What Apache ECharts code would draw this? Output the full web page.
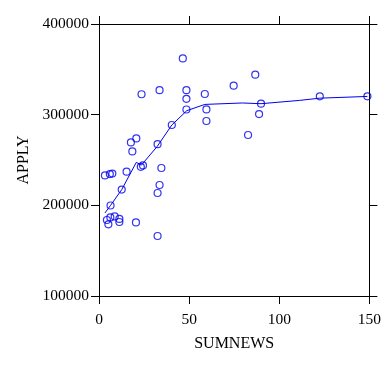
<!DOCTYPE html>
<html>
<head>
<meta charset="utf-8">
<script src="https://cdn.jsdelivr.net/npm/echarts@6/dist/echarts.min.js"></script>
<style>
  html, body { margin: 0; padding: 0; background: #fff; }
  #chart { width: 384px; height: 367px; }
</style>
</head>
<body>
<div id="chart"></div>
<script>
// scatter points: SUMNEWS vs APPLY
const sumnews = [46.5, 23.6, 33.6, 48.5, 48.5, 48.5, 40.4, 32.5, 17.7, 20.7,
  18.5, 24.4, 23.2, 34.6, 3.3, 6.0, 7.4, 15.3, 33.6, 32.5,
  12.6, 6.4, 4.4, 6.3, 8.7, 11.3, 11.3, 5.2, 20.5, 32.5,
  86.7, 74.7, 58.7, 59.6, 59.6, 89.9, 88.8, 82.7, 122.5, 148.9]
const apply = [362000, 322500, 327000, 327000, 317500, 305700, 288600, 267400, 269400, 273800,
  259500, 244000, 242500, 241200, 233000, 234500, 235000, 237100, 222400, 213600,
  217400, 199800, 183800, 186700, 187800, 185000, 181600, 179000, 181200, 166200,
  344100, 332000, 322800, 305800, 293000, 312100, 300700, 277600, 320200, 320200]

// fitted curve
const fitX = [3.3, 6.3, 12.6, 20.7, 23.5, 32.3, 40.4, 48.7, 58.7, 79.5, 89.9, 111.1, 122.5, 148.9]
const fitY = [191600, 199600, 217300, 247400, 244300, 265000, 288600, 304400, 311300, 312900, 312100, 315700, 318200, 320100]

const xTicks = [0, 150, 50]   // min, max, interval
const yTicks = [100000, 400000, 100000]

{
    let view = document.getElementById('chart')
    let chart = echarts.init(view)
    let font = 'Liberation Serif'
    let axisBase = {
        axisLine: { show: true, onZero: false, lineStyle: { color: '#000', width: 1 } },
        axisTick: { show: true, length: 8, lineStyle: { color: '#000', width: 1 } },
        splitLine: { show: false }
    }
    let plain = v => String(v)
    let option = {
        animation: false,
        backgroundColor: '#fff',
        grid: { left: 99, right: 14, top: 24, bottom: 71 },
        xAxis: [
            Object.assign({
                type: 'value', position: 'bottom',
                min: xTicks[0], max: xTicks[1], interval: xTicks[2],
                name: 'SUMNEWS', nameLocation: 'middle', nameGap: 40,
                nameTextStyle: { color: '#000', fontFamily: font, fontSize: 16 },
                axisLabel: { color: '#000', fontFamily: font, fontSize: 15.5, margin: 16, formatter: plain }
            }, axisBase),
            Object.assign({
                type: 'value', position: 'top',
                min: xTicks[0], max: xTicks[1], interval: xTicks[2],
                axisLabel: { show: false }
            }, axisBase)
        ],
        yAxis: [
            Object.assign({
                type: 'value', position: 'left',
                min: yTicks[0], max: yTicks[1], interval: yTicks[2],
                name: 'APPLY', nameLocation: 'middle', nameGap: 52,
                nameTextStyle: { color: '#000', fontFamily: font, fontSize: 16 },
                axisLabel: { color: '#000', fontFamily: font, fontSize: 15.5, margin: 10, formatter: plain }
            }, axisBase),
            Object.assign({
                type: 'value', position: 'right',
                min: yTicks[0], max: yTicks[1], interval: yTicks[2],
                axisLabel: { show: false }
            }, axisBase)
        ],
        series: [
            {
                type: 'line',
                data: fitX.map((x, i) => [x, fitY[i]]),
                symbol: 'none',
                lineStyle: { color: '#0000ee', width: 1 },
                z: 2
            },
            {
                type: 'scatter',
                data: sumnews.map((x, i) => [x, apply[i]]),
                symbol: 'circle',
                symbolSize: 7,
                itemStyle: { color: 'rgba(0,0,0,0)', borderColor: '#0000ee', borderWidth: 1.2 },
                z: 3
            }
        ]
    }
    chart.setOption(option)
}
</script>
</body>
</html>
